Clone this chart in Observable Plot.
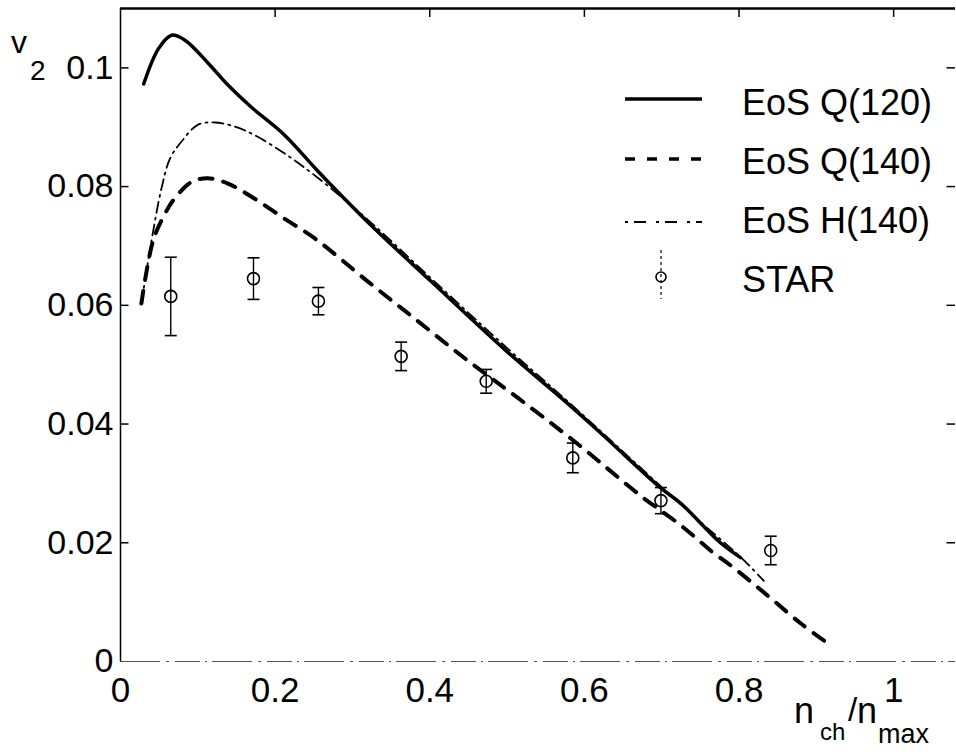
<!DOCTYPE html>
<html>
<head>
<meta charset="utf-8">
<script src="https://cdn.jsdelivr.net/npm/d3@7"></script>
<script src="https://cdn.jsdelivr.net/npm/@observablehq/plot@0.6"></script>
<style>
  html, body { margin: 0; padding: 0; background: white; }
  #chart svg { display: block; }
</style>
</head>
<body>
<div id="chart"></div>
<script>
// ---- Data ----
const q120X = [0.030, 0.049, 0.066, 0.083, 0.114, 0.139, 0.169, 0.212, 0.256, 0.320, 0.402, 0.500, 0.570, 0.621, 0.699, 0.725, 0.776, 0.802];
const q120Y = [0.0973, 0.1032, 0.1055, 0.1047, 0.1007, 0.0971, 0.0934, 0.0887, 0.0825, 0.0740, 0.0640, 0.0522, 0.0444, 0.0385, 0.0292, 0.0266, 0.0200, 0.0175];

const q140X = [0.027, 0.042, 0.057, 0.070, 0.092, 0.113, 0.139, 0.173, 0.212, 0.251, 0.320, 0.385, 0.450, 0.514, 0.587, 0.673, 0.725, 0.767, 0.793, 0.837, 0.880, 0.910];
const q140Y = [0.0603, 0.0708, 0.0753, 0.0780, 0.0808, 0.0814, 0.0805, 0.0780, 0.0746, 0.0713, 0.0640, 0.0573, 0.0506, 0.0444, 0.0371, 0.0279, 0.0229, 0.0183, 0.0158, 0.0111, 0.0064, 0.0035];

const h140X = [0.027, 0.040, 0.053, 0.064, 0.079, 0.100, 0.122, 0.148, 0.173, 0.212, 0.256, 0.320, 0.402, 0.500, 0.570, 0.621, 0.699, 0.750, 0.802, 0.832];
const h140Y = [0.0603, 0.0708, 0.0797, 0.0847, 0.0876, 0.0904, 0.0908, 0.0901, 0.0887, 0.0856, 0.0814, 0.0744, 0.0645, 0.0528, 0.0448, 0.0388, 0.0295, 0.0235, 0.0176, 0.0136];

const starX   = [0.065, 0.172, 0.256, 0.363, 0.473, 0.585, 0.699, 0.841];
const starY   = [0.0615, 0.0645, 0.0607, 0.0514, 0.0472, 0.0343, 0.0271, 0.0187];
const starErr = [0.0066, 0.0035, 0.0023, 0.0024, 0.0020, 0.0025, 0.0022, 0.0024];

const xTicks = [0, 0.2, 0.4, 0.6, 0.8, 1];
const xTickLabels = ["0", "0.2", "0.4", "0.6", "0.8", "1"];
const yTicks = [0, 0.02, 0.04, 0.06, 0.08, 0.1];
const yTickLabels = ["0", "0.02", "0.04", "0.06", "0.08", "0.1"];

const legendLabels = ["EoS Q(120)", "EoS Q(140)", "EoS H(140)", "STAR"];
const xLabelParts = ["n", "ch", "/", "n", "max"];
const yLabelParts = ["v", "2"];

// ---- Build tables ----
const q120 = q120X.map((x, i) => ({x, y: q120Y[i]}));
const q140 = q140X.map((x, i) => ({x, y: q140Y[i]}));
const h140 = h140X.map((x, i) => ({x, y: h140Y[i]}));
const star = starX.map((x, i) => ({x, y: starY[i], e: starErr[i], dotted: i === 0}));

// horizontal bar symbol for error-bar caps
const capSymbol = {
  draw(context, size) {
    const w = Math.sqrt(size / Math.PI);
    context.moveTo(-w, 0);
    context.lineTo(w, 0);
  }
};

const font = "'Liberation Sans', Arial, Helvetica, sans-serif";

const chart = Plot.plot({
  width: 956,
  height: 755,
  marginLeft: 120,
  marginRight: 1,
  marginTop: 8,
  marginBottom: 94,
  x: {domain: [0, 1.08]},
  y: {domain: [0, 0.11]},
  style: {fontFamily: font, background: "white", color: "black", overflow: "visible"},
  marks: [
    // frame
    Plot.ruleY([0.11], {stroke: "black", strokeWidth: 2.5}),
    Plot.ruleX([0], {stroke: "black", strokeWidth: 1.5}),
    Plot.ruleY([0], {stroke: "#555", strokeWidth: 1.2, strokeDasharray: "40,6,3,6,25,5,2,5"}),
    // inward ticks
    Plot.ruleY(yTicks.filter(d => d > 0), {y: d => d, x1: 0, x2: 0.011, stroke: "black", strokeWidth: 1.5}),
    Plot.ruleY(yTicks.filter(d => d > 0), {y: d => d, x1: 1.069, x2: 1.08, stroke: "black", strokeWidth: 1.5}),
    Plot.ruleX(xTicks.filter(d => d > 0), {x: d => d, y1: 0.11, y2: 0.1085, stroke: "black", strokeWidth: 1.5}),
    // axes labels
    Plot.axisY(yTicks, {tickSize: 0, tickPadding: 7, fontSize: 34, label: null,
      tickFormat: d => yTickLabels[yTicks.indexOf(d)]}),
    Plot.axisX(xTicks, {tickSize: 0, tickPadding: 16, fontSize: 35, label: null,
      tickFormat: d => xTickLabels[xTicks.indexOf(d)]}),
    // curves
    Plot.line(q140, {x: "x", y: "y", stroke: "black", strokeWidth: 4, strokeDasharray: "13,11", curve: "catmull-rom"}),
    Plot.line(q120, {x: "x", y: "y", stroke: "black", strokeWidth: 3.5, curve: "catmull-rom"}),
    Plot.line(h140, {x: "x", y: "y", stroke: "black", strokeWidth: 1.8, strokeDasharray: "11,5,2,5", curve: "catmull-rom"}),
    // STAR data with error bars
    Plot.ruleX(star, {x: "x", y1: d => d.y - d.e, y2: d => d.y + d.e, stroke: "black", strokeWidth: 1.4,
      strokeDasharray: d => d.dotted ? "3,2" : null}),
    Plot.dot(star, {x: "x", y: d => d.y + d.e, symbol: capSymbol, r: 6, stroke: "black", strokeWidth: 1.6}),
    Plot.dot(star, {x: "x", y: d => d.y - d.e, symbol: capSymbol, r: 6, stroke: "black", strokeWidth: 1.6}),
    Plot.dot(star, {x: "x", y: "y", r: 6, stroke: "black", fill: "none", strokeWidth: 1.6})
  ]
});

document.getElementById("chart").appendChild(chart);

const svg = d3.select(chart);
const addText = (t, x, y, s) => svg.append("text").attr("x", x).attr("y", y)
  .attr("font-family", font).attr("font-size", s).attr("text-anchor", "start")
  .attr("fill", "black").text(t);

// y label  v_2
addText(yLabelParts[0], 11, 53, 32);
addText(yLabelParts[1], 30, 80, 28);

// x label  n_ch / n_max
addText(xLabelParts[0], 794, 723, 36);
addText(xLabelParts[1], 820, 740, 24);
addText(xLabelParts[2], 848, 721, 33);
addText(xLabelParts[3], 857, 723, 36);
addText(xLabelParts[4], 878, 743, 27);

// legend
const rowsLine = [99, 159, 222, 277];
const rowsText = [115, 174, 233, 292];
const styles = [
  {w: 3.5, dash: null},
  {w: 3.5, dash: "10,12"},
  {w: 2.2, dash: "3,6,12,10"}
];
styles.forEach((s, i) => {
  svg.append("line").attr("x1", 625).attr("x2", 702).attr("y1", rowsLine[i]).attr("y2", rowsLine[i])
    .attr("stroke", "black").attr("stroke-width", s.w).attr("stroke-dasharray", s.dash);
});
svg.append("line").attr("x1", 661).attr("x2", 661).attr("y1", 250).attr("y2", 299)
  .attr("stroke", "black").attr("stroke-width", 1.2).attr("stroke-dasharray", "3,3");
svg.append("circle").attr("cx", 661).attr("cy", 277).attr("r", 5)
  .attr("fill", "none").attr("stroke", "black").attr("stroke-width", 1.6);
legendLabels.forEach((t, i) => addText(t, 742, rowsText[i], 36));
</script>
</body>
</html>
